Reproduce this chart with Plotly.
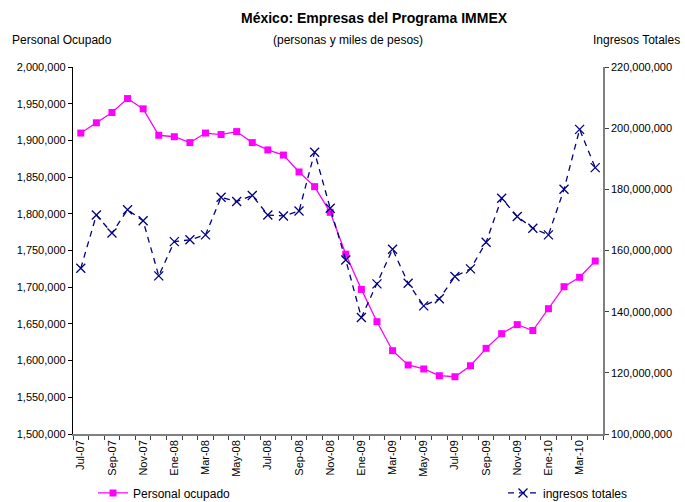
import plotly.graph_objects as go

months = ["Jul-07","Ago-07","Sep-07","Oct-07","Nov-07","Dic-07",
          "Ene-08","Feb-08","Mar-08","Abr-08","May-08","Jun-08","Jul-08","Ago-08","Sep-08","Oct-08","Nov-08","Dic-08",
          "Ene-09","Feb-09","Mar-09","Abr-09","May-09","Jun-09","Jul-09","Ago-09","Sep-09","Oct-09","Nov-09","Dic-09",
          "Ene-10","Feb-10","Mar-10","Abr-10"]

personal_ocupado = [1910000, 1924000, 1938000, 1957000, 1943000, 1907000,
                    1905000, 1897000, 1910000, 1908000, 1912000, 1897000,
                    1887000, 1880000, 1857000, 1837000, 1802000, 1745000,
                    1697000, 1653000, 1613500, 1594000, 1588600, 1579400,
                    1578000, 1593000, 1616700, 1636700, 1649000, 1641000,
                    1670700, 1700700, 1713500, 1735700]

ingresos_totales = [154.2e6, 171.6e6, 165.7e6, 173.3e6, 169.7e6, 151.7e6,
                    162.9e6, 163.5e6, 165.1e6, 177.4e6, 176.0e6, 178.0e6,
                    171.6e6, 171.3e6, 172.9e6, 192.1e6, 173.8e6, 156.9e6,
                    138.1e6, 149.1e6, 160.4e6, 149.3e6, 141.9e6, 144.2e6,
                    151.5e6, 154.0e6, 162.7e6, 177.1e6, 171.1e6, 167.3e6,
                    165.1e6, 180.0e6, 199.6e6, 187.1e6]

idx = list(range(len(months)))
label_idx = idx[::2]
label_txt = [months[i] for i in label_idx]
boundaries = [i - 0.5 for i in range(len(months) + 1)]
xr = [-0.5, len(months) - 0.5]

font = "Liberation Sans, Arial, sans-serif"

fig = go.Figure()
fig.add_trace(go.Scatter(
    x=idx, y=personal_ocupado, name="Personal ocupado", mode="lines+markers",
    line=dict(color="#FF00FF", width=1.3),
    marker=dict(symbol="square", size=7, color="#FF00FF"),
    yaxis="y", legend="legend"))
fig.add_trace(go.Scatter(
    x=idx, y=ingresos_totales, name="ingresos totales", mode="lines+markers",
    line=dict(color="#000080", width=1.3, dash="6px,5px"),
    marker=dict(symbol="x-thin-open", size=9, color="#000080", line=dict(width=1.3, color="#000080")),
    yaxis="y2", legend="legend2"))

tickfont = dict(family=font, size=11, color="black")
legfont = dict(family=font, size=12, color="black")

fig.update_layout(
    width=685, height=502,
    margin=dict(l=73, r=82, t=67, b=68, autoexpand=False),
    paper_bgcolor="white", plot_bgcolor="white",
    font=dict(family=font, size=11, color="black"),
    showlegend=True,
    legend=dict(x=93 / 685, xref="container", y=0.018, yref="container", xanchor="left", yanchor="middle",
                font=legfont, bgcolor="rgba(0,0,0,0)"),
    legend2=dict(x=503 / 685, xref="container", y=0.018, yref="container", xanchor="left", yanchor="middle",
                 font=legfont, bgcolor="rgba(0,0,0,0)"),
    xaxis=dict(range=xr, tickmode="array", tickvals=label_idx, ticktext=label_txt,
               tickangle=-90, ticks="", showline=True, linecolor="#808080", linewidth=1.5,
               showgrid=False, zeroline=False, tickfont=tickfont, automargin=False,
               minor=dict(tickmode="array", tickvals=boundaries, ticks="outside", ticklen=4,
                          tickcolor="#404040", tickwidth=1)),
    xaxis2=dict(range=xr, overlaying="x", anchor="y", tickmode="array", tickvals=boundaries,
                ticks="inside", ticklen=4, tickcolor="#404040", showticklabels=False,
                showline=False, showgrid=False, zeroline=False, automargin=False),
    yaxis=dict(range=[1500000, 2000000], dtick=50000, tickformat=",", ticks="outside",
               ticklen=4, tickcolor="black", showline=True, linecolor="black", linewidth=1.3,
               showgrid=False, zeroline=False, tickfont=tickfont, automargin=False),
    yaxis3=dict(range=[1500000, 2000000], dtick=50000, overlaying="y", anchor="x",
                ticks="inside", ticklen=4, tickcolor="black", showticklabels=False,
                showline=False, showgrid=False, zeroline=False, automargin=False),
    yaxis2=dict(range=[100e6, 220e6], dtick=20e6, tickformat=",", ticks="outside",
                ticklen=4, tickcolor="#404040", overlaying="y", side="right", anchor="x",
                showline=True, linecolor="#808080", linewidth=1.5,
                showgrid=False, zeroline=False, tickfont=tickfont, automargin=False),
    yaxis4=dict(range=[100e6, 220e6], dtick=20e6, overlaying="y", side="right", anchor="x",
                ticks="inside", ticklen=4, tickcolor="#404040", showticklabels=False,
                showline=False, showgrid=False, zeroline=False, automargin=False),
)

fig.add_annotation(text="<b>México: Empresas del Programa IMMEX</b>", xref="paper", yref="paper",
                   x=0.568, y=1.133, showarrow=False, xanchor="center", yanchor="middle",
                   font=dict(family=font, size=14, color="black"))
fig.add_annotation(text="(personas y miles de pesos)", xref="paper", yref="paper",
                   x=0.519, y=1.074, showarrow=False, xanchor="center", yanchor="middle",
                   font=dict(family=font, size=12, color="black"))
fig.add_annotation(text="Personal Ocupado", xref="paper", yref="paper",
                   x=-0.119, y=1.074, showarrow=False, xanchor="left", yanchor="middle",
                   font=dict(family=font, size=12, color="black"))
fig.add_annotation(text="Ingresos Totales", xref="paper", yref="paper",
                   x=1.149, y=1.074, showarrow=False, xanchor="right", yanchor="middle",
                   font=dict(family=font, size=12, color="black"))

fig.write_html("out.html", config={"displayModeBar": False},
               post_script="document.body.style.margin='0';")
